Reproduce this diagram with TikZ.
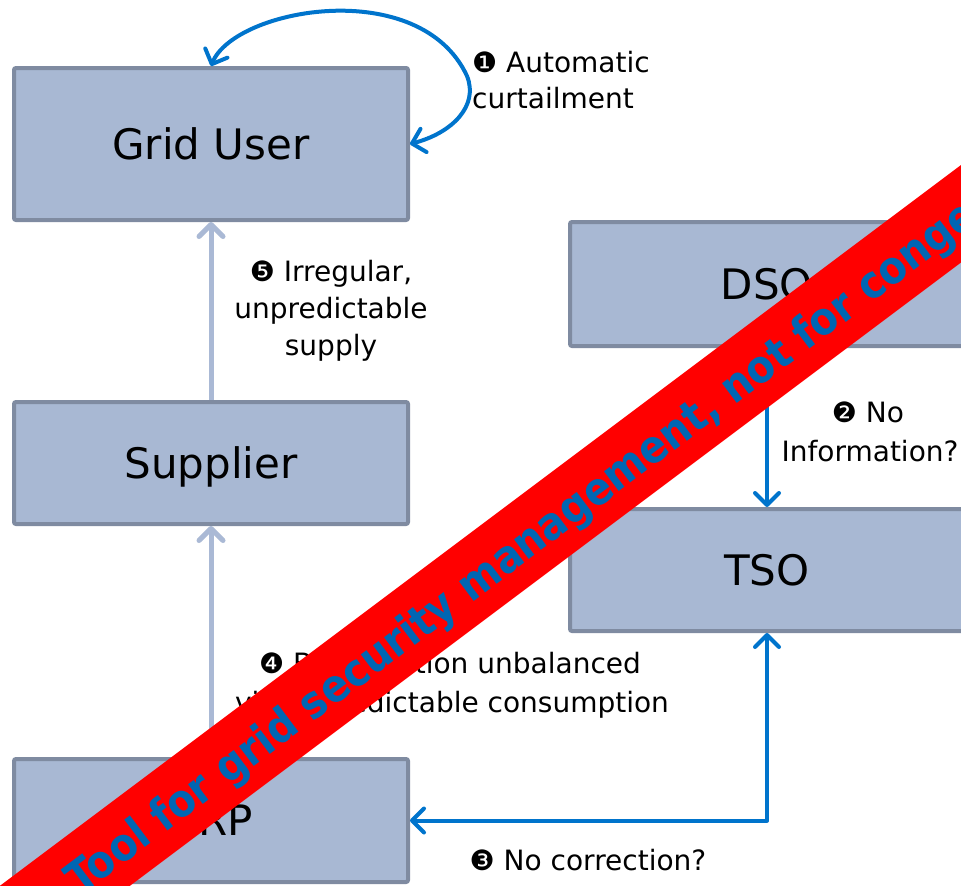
\documentclass[tikz,border=0pt]{standalone}
\usepackage{fontspec}
\setmainfont{DejaVu Sans}
\newfontfamily\bandfont{DejaVu Sans Condensed}
\usetikzlibrary{arrows.meta}
\definecolor{boxfill}{RGB}{168,184,211}
\definecolor{boxline}{RGB}{127,139,161}
\definecolor{blu}{RGB}{0,116,204}
\definecolor{grayarrow}{RGB}{170,185,213}
\definecolor{bandred}{RGB}{255,0,0}
\definecolor{bandtext}{RGB}{0,102,179}
\tikzset{myb/.tip={Straight Barb[length=12pt, width=24pt, line cap=round, line join=round]}}
\begin{document}
\begin{tikzpicture}[x=1pt,y=-1pt,
  box/.style={draw=boxline, fill=boxfill, line width=4pt, rounded corners=2pt,
    minimum width=394pt, inner sep=0pt, text height=30pt, text depth=0pt,
    font=\fontsize{42}{50}\selectfont},
  lbl/.style={font=\fontsize{28}{38}\selectfont, inner sep=0pt},
  bluarrow/.style={draw=blu, line width=4pt, line cap=round, line join=round},
  grayarr/.style={draw=grayarrow, line width=5pt, line join=round}]
\useasboundingbox (0,0) rectangle (961,886);
\clip (0,0) rectangle (961,886);

% boxes
\node[box, minimum height=152pt] (gu)  at (211,144)   {Grid User};
\node[box, minimum height=122pt] (sup) at (211,463)   {Supplier};
\node[box, minimum height=123pt] (brp) at (211,820.5) {BRP};
\node[box, minimum height=124pt] (dso) at (767,284)   {DSO};
\node[box, minimum height=122pt] (tso) at (767,570)   {TSO};

% connectors
\draw[grayarr, -{myb}] (sup.north) -- (gu.south);
\draw[grayarr, -{myb}] (brp.north) -- (sup.south);
\draw[bluarrow, -{myb}] (dso.south) -- (tso.north);
\draw[bluarrow, {myb}-{myb}] (tso.south) |- (brp.east);
\coordinate (loopR) at (467,76);
\draw[bluarrow, {myb}-{myb}] (gu.north) .. controls (235,8) and (420,-25) .. (loopR)
   .. controls (479,106) and (452,133) .. (gu.east);

% labels
\node[lbl, anchor=base west] (l1a) at (472,72)  {❶ Automatic};
\node[lbl, anchor=base west] (l1b) at (472,108) {curtailment};
\node[lbl, anchor=base] (l5a) at (331,281) {❺ Irregular,};
\node[lbl, anchor=base] (l5b) at (331,318) {unpredictable};
\node[lbl, anchor=base] (l5c) at (331,355) {supply};
\node[lbl, anchor=base] (l2a) at (868,422) {❷ No};
\node[lbl, anchor=base] (l2b) at (870,461) {Information?};
\node[lbl, anchor=base] (l4a) at (450,673) {❹ BRP position unbalanced};
\node[lbl, anchor=base] (l4b) at (452,712) {via unpredictable consumption};
\node[lbl, anchor=base] (l3)  at (588,870) {❸ No correction?};

% banner
\fill[bandred] (-103.4,963.3) -- (1096.6,63.3) -- (1143.4,125.7) -- (-56.6,1025.7) -- cycle;
\node[anchor=west, inner sep=0pt, rotate=36.87, text=bandtext,
  font=\bandfont\bfseries\fontsize{45}{50}\selectfont] (band) at (72.9,886.7)
  {Tool for grid security management, not for congestion management};
\end{tikzpicture}
\end{document}
